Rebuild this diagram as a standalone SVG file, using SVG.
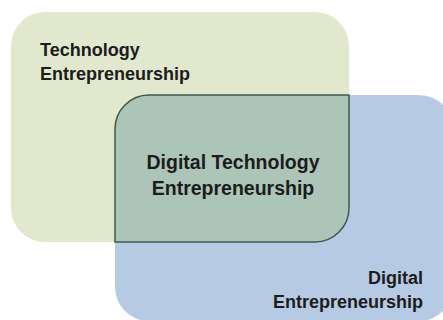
<svg xmlns="http://www.w3.org/2000/svg" width="443" height="320" viewBox="0 0 443 320">
<style>
text{font-family:"Liberation Sans",Arial,sans-serif;font-weight:bold;fill:#1c1c1c}
</style>
<rect width="443" height="320" fill="#ffffff"/>
<g id="tech">
<rect x="11" y="12" width="338" height="230" rx="34" fill="#e1e8cd"/>
<text x="40" y="56" font-size="18">Technology</text>
<text x="40" y="80" font-size="18">Entrepreneurship</text>
</g>
<g id="digital">
<rect x="115" y="95" width="338" height="226" rx="34" fill="#b7cae3"/>
<text x="423" y="284" font-size="18" text-anchor="end">Digital</text>
<text x="423" y="308" font-size="18" text-anchor="end">Entrepreneurship</text>
</g>
<g id="overlap">
<path d="M149,95 H349 V208 A34,34 0 0 1 315,242 H115 V129 A34,34 0 0 1 149,95 Z" fill="#adc4b8" stroke="#3e5a4b" stroke-width="1.5"/>
<text x="233" y="169" font-size="19.5" text-anchor="middle">Digital Technology</text>
<text x="233" y="195" font-size="19.5" text-anchor="middle">Entrepreneurship</text>
</g>
<g id="connectors"/>
</svg>
